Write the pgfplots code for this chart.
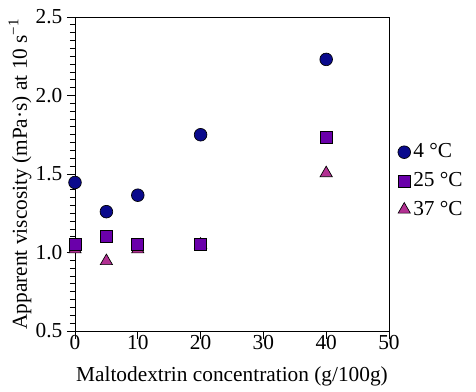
\documentclass[border=0pt]{standalone}
\usepackage{fontspec}
\setmainfont{Liberation Serif}
\usepackage{pgfplots}
\pgfplotsset{compat=1.18}
\definecolor{cblue}{RGB}{10,10,140}
\definecolor{cpurp}{RGB}{106,0,170}
\definecolor{cmag}{RGB}{178,48,146}
\begin{document}
\fontsize{16}{19}\selectfont
\begin{tikzpicture}
\begin{axis}[
  name=ax,
  scale only axis,
  width=235.5pt, height=235.5pt,
  xmin=0, xmax=50, ymin=0.5, ymax=2.5,
  axis lines=box,
  xtick={0,10,20,30,40,50},
  ytick={0.5,1.0,1.5,2.0,2.5},
  minor y tick num=9,
  tick pos=left,
  tick align=outside,
  major tick length=6pt,
  minor tick length=3.75pt,
  every tick/.style={black, line width=0.6pt},
  axis line style={black, line width=0.7pt},
  /pgf/number format/assume math mode=true,
  ticklabel style={font=\fontsize{16}{19}\selectfont},
  xticklabel style={yshift=8pt},
  yticklabel style={xshift=2pt, /pgf/number format/.cd, fixed, fixed zerofill, precision=1},
  xlabel={Maltodextrin concentration (g/100g)},
  ylabel={Apparent viscosity (mPa·s) at 10 s\textsuperscript{−1}},
  label style={font=\fontsize{16}{19}\selectfont},
  xlabel style={at={(axis description cs:0.5,0)}, anchor=base, yshift=-38pt},
  ylabel style={at={(axis description cs:-0.175,0.5)}, anchor=center},
  clip=false,
  reverse legend,
  legend style={draw=none, fill=none, at={(1.0,0.478)}, anchor=west, xshift=6.5pt,
    font=\fontsize{16}{19}\selectfont, row sep=4.5pt, inner sep=0pt,
    /tikz/every even column/.append style={column sep=0pt}},
  legend cell align=left,
  legend image code/.code={\draw plot coordinates {(4.5pt,0pt)};},
]
\addplot[only marks, mark=triangle*, mark size=5.3pt, mark options={fill=cmag, draw=black, line width=0.5pt}]
  coordinates {(0,1.02) (5,0.945) (10,1.02) (20,1.05) (40,1.505)};
\addlegendentry{37 °C}
\addplot[only marks, mark=square*, mark size=4.5pt, mark options={fill=cpurp, draw=black, line width=0.5pt}]
  coordinates {(0,1.05) (5,1.10) (10,1.055) (20,1.05) (40,1.733)};
\addlegendentry{25 °C}
\addplot[only marks, mark=*, mark size=4.75pt, mark options={fill=cblue, draw=black, line width=0.5pt}]
  coordinates {(0,1.446) (5,1.26) (10,1.365) (20,1.75) (40,2.23)};
\addlegendentry{4 °C}
\end{axis}
\draw[black, line width=0.7pt] (ax.north west) -- (ax.north east) -- (ax.south east);
\pgfresetboundingbox
\path (ax.south west) ++(-56.25pt,-45.75pt) rectangle ++(357pt,294pt);
\end{tikzpicture}
\end{document}
